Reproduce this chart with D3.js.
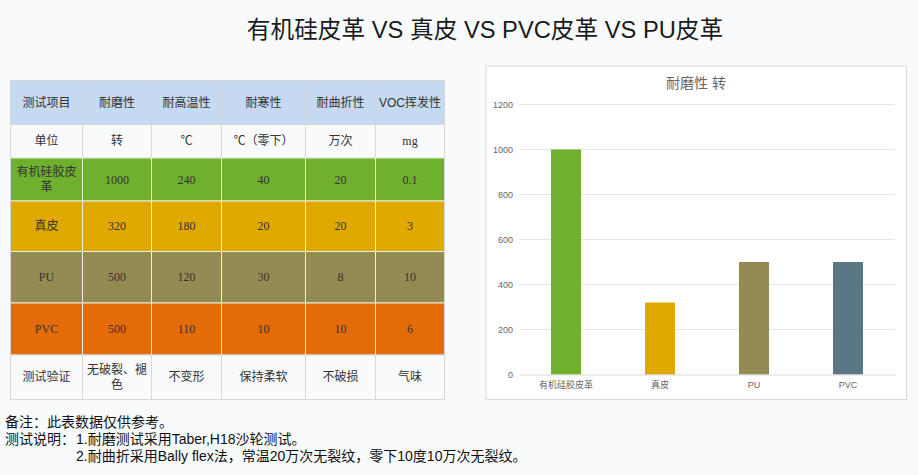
<!DOCTYPE html>
<html>
<head>
<meta charset="utf-8">
<script src="https://cdn.jsdelivr.net/npm/d3@7"></script>
<style>
  html, body { margin: 0; padding: 0; background: #f8fafc; overflow: hidden; }
  svg { display: block; }
  text { font-family: "Liberation Sans", "Noto Sans CJK SC", sans-serif; }
  .cell { font-family: "Liberation Serif", "Noto Sans CJK SC", serif; font-size: 12px; fill: #333; }
  .cell.sans { font-family: "Liberation Sans", "Noto Sans CJK SC", sans-serif; }
</style>
</head>
<body>
<svg id="page" width="918" height="475"></svg>
<script>
// Chart data
const materials = ["有机硅胶皮革", "真皮", "PU", "PVC"];
const abrasion = [1000, 320, 500, 500];
const barColors = ["#70b02f", "#dfa900", "#948a54", "#5b7786"];
const yTicks = [0, 200, 400, 600, 800, 1000, 1200];

// Table data
const headerRow = ["测试项目", "耐磨性", "耐高温性", "耐寒性", "耐曲折性", "VOC挥发性"];
const unitRow = ["单位", "转", "℃", "℃（零下）", "万次", "mg"];
const siliconeRow = ["有机硅胶皮\n革", "1000", "240", "40", "20", "0.1"];
const leatherRow = ["真皮", "320", "180", "20", "20", "3"];
const puRow = ["PU", "500", "120", "30", "8", "10"];
const pvcRow = ["PVC", "500", "110", "10", "10", "6"];
const verifyRow = ["测试验证", "无破裂、褪\n色", "不变形", "保持柔软", "不破损", "气味"];

const noteLabels = ["备注：此表数据仅供参考。", "测试说明："];
const noteItems = [
  "1.耐磨测试采用Taber,H18沙轮测试。",
  "2.耐曲折采用Bally flex法，常温20万次无裂纹，零下10度10万次无裂纹。"
];

const svg = d3.select("#page");

svg.append("text")
  .attr("x", 485)
  .attr("y", 38)
  .attr("text-anchor", "middle")
  .style("font-size", "23.7px")
  .style("fill", "#1a1a1a")
  .text("有机硅皮革 VS 真皮 VS PVC皮革 VS PU皮革");

// Table
const colEdges = [10.5, 82.5, 151.5, 221.5, 305.5, 375.5, 444.5];
const rowEdges = [80.5, 124.5, 158, 201, 251.5, 303, 355, 399.5];
const rows = [
  { cells: headerRow, fill: "#c5d9f1", line: "#d4d6da" },
  { cells: unitRow, fill: "#f8fafc", line: "#d4d6da" },
  { cells: siliconeRow, fill: "#70b02f", line: "#e8eee0" },
  { cells: leatherRow, fill: "#dfa900", line: "#e8eee0" },
  { cells: puRow, fill: "#948a54", line: "#e8eee0" },
  { cells: pvcRow, fill: "#e36c09", line: "#e8eee0" },
  { cells: verifyRow, fill: "#f8fafc", line: "#d4d6da" }
];

const table = svg.append("g");

rows.forEach((row, r) => {
  row.cells.forEach((label, c) => {
    const x0 = colEdges[c], x1 = colEdges[c + 1];
    const y0 = rowEdges[r], y1 = rowEdges[r + 1];

    table.append("rect")
      .attr("x", x0)
      .attr("y", y0)
      .attr("width", x1 - x0)
      .attr("height", y1 - y0)
      .attr("fill", row.fill)
      .attr("stroke", row.line)
      .attr("stroke-width", 1);

    const lines = label.split("\n");
    const cy = (y0 + y1) / 2;
    lines.forEach((line, i) => {
      const t = table.append("text")
        .attr("class", "cell")
        .attr("x", (x0 + x1) / 2)
        .attr("y", cy + (i - (lines.length - 1) / 2) * 15 + 4)
        .attr("text-anchor", "middle");
      // VOC and the degree sign fall back to the sans face in the original
      if (line.startsWith("VOC")) {
        t.append("tspan").attr("class", "cell sans").text("VOC");
        t.append("tspan").text(line.slice(3));
      } else if (line.startsWith("℃（")) {
        t.append("tspan").attr("class", "cell sans").text("℃");
        t.append("tspan").text(line.slice(1));
      } else {
        t.text(line);
      }
    });
  });
});

// Outer frame of the table
table.append("rect")
  .attr("x", 10.5)
  .attr("y", 80.5)
  .attr("width", 434)
  .attr("height", 319)
  .attr("fill", "none")
  .attr("stroke", "#d4d6da");

// Bar chart panel
svg.append("rect")
  .attr("x", 486)
  .attr("y", 66)
  .attr("width", 420.5)
  .attr("height", 333.5)
  .attr("fill", "#fff")
  .attr("stroke", "#d9d9d9");

svg.append("text")
  .attr("x", 696)
  .attr("y", 87.5)
  .attr("text-anchor", "middle")
  .style("font-size", "14px")
  .style("fill", "#666")
  .text("耐磨性 转");

const x = d3.scaleBand()
  .domain(materials)
  .range([519, 895]);

const y = d3.scaleLinear()
  .domain([0, 1200])
  .range([374.5, 104.5]);

// Grid lines
svg.append("g")
  .selectAll("line")
  .data(yTicks.filter(d => d > 0))
  .enter()
  .append("line")
  .attr("x1", 519)
  .attr("x2", 895)
  .attr("y1", d => y(d))
  .attr("y2", d => y(d))
  .attr("stroke", "#e6e6e6");

// Bars
svg.append("g")
  .selectAll("rect")
  .data(materials)
  .enter()
  .append("rect")
  .attr("x", d => x(d) + x.bandwidth() / 2 - 15)
  .attr("y", (d, i) => y(abrasion[i]))
  .attr("width", 30)
  .attr("height", (d, i) => y(0) - y(abrasion[i]))
  .attr("fill", (d, i) => barColors[i]);

// Axes
const yAxis = svg.append("g")
  .attr("transform", "translate(519,0)")
  .call(d3.axisLeft(y).tickValues(yTicks).tickFormat(d3.format("d")).tickSize(0).tickPadding(6));
yAxis.select(".domain").remove();
yAxis.selectAll("text")
  .style("font-family", "\"Liberation Sans\", sans-serif")
  .style("font-size", "9px")
  .style("fill", "#666");

const xAxis = svg.append("g")
  .attr("transform", "translate(0,374.5)")
  .call(d3.axisBottom(x).tickSize(0).tickPadding(7));
xAxis.select(".domain").attr("stroke", "#d9d9d9");
xAxis.selectAll("text")
  .style("font-family", "\"Liberation Sans\", \"Noto Sans CJK SC\", sans-serif")
  .style("font-size", "9px")
  .style("fill", "#666");

// Notes under the table
const addNote = (px, py, str) => svg.append("text")
  .attr("x", px)
  .attr("y", py)
  .style("font-size", "14px")
  .style("fill", "#111")
  .text(str);

addNote(5, 427, noteLabels[0]);
addNote(5, 444, noteLabels[1]);
addNote(76, 444, noteItems[0]);
addNote(76, 461, noteItems[1]);
</script>
</body>
</html>
